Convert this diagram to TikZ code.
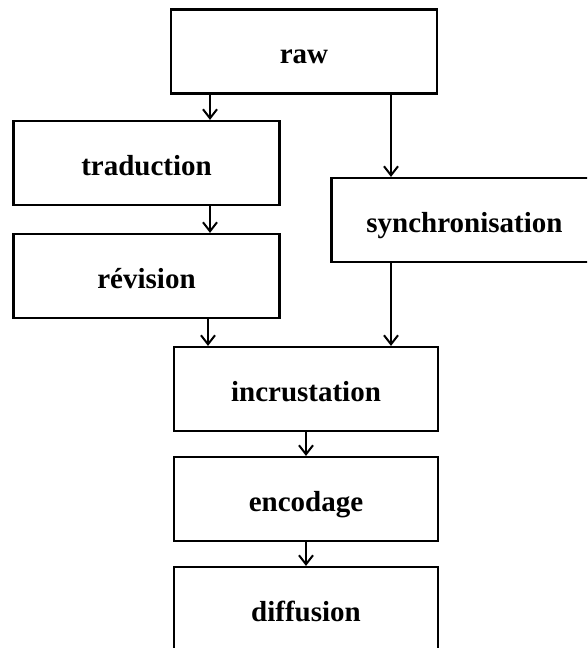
\documentclass[tikz,border=0pt]{standalone}
\usepackage{fontspec}
\setmainfont{Liberation Serif}
\usetikzlibrary{arrows.meta}
\tikzset{
  stage/.style={draw=black, line width=2.2pt, fill=white, rectangle,
    minimum width=266pt, minimum height=84pt, inner sep=0pt,
    font=\fontsize{29}{34}\selectfont\bfseries,
    text height=26pt, text depth=2pt},
  flow/.style={draw=black, line width=2pt, -{Straight Barb[length=9pt,width=14pt,line width=2pt]}}
}
\begin{document}
\begin{tikzpicture}[x=1pt,y=-1pt]
\useasboundingbox (0,0) rectangle (587,648);
\clip (0,0) rectangle (587,648);
\node[stage] (raw) at (304,51.5) {raw};
\node[stage] (trad) at (146.5,163) {traduction};
\node[stage] (rev) at (146.5,276) {révision};
\node[stage] (sync) at (464.5,220) {synchronisation};
\node[stage, minimum width=264pt] (incr) at (306,389) {incrustation};
\node[stage, minimum width=264pt] (enc) at (306,499) {encodage};
\node[stage, minimum width=264pt] (diff) at (306,609) {diffusion};
\coordinate (lx) at (210,0);
\coordinate (lx2) at (208,0);
\coordinate (rx) at (391,0);
\draw[flow] (lx |- raw.south) -- (lx |- trad.north);
\draw[flow] (lx |- trad.south) -- (lx |- rev.north);
\draw[flow] (lx2 |- rev.south) -- (lx2 |- incr.north);
\draw[flow] (rx |- raw.south) -- (rx |- sync.north);
\draw[flow] (rx |- sync.south) -- (rx |- incr.north);
\draw[flow] (incr.south) -- (enc.north);
\draw[flow] (enc.south) -- (diff.north);
\end{tikzpicture}
\end{document}
